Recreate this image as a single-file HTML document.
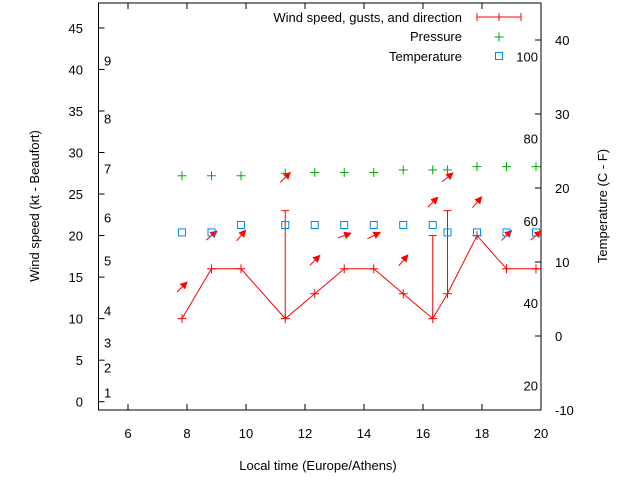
<!DOCTYPE html>
<html><head><meta charset="utf-8"><style>
body{margin:0;background:#fff}
svg{display:block;font-family:"Liberation Sans",Arial,sans-serif;font-size:13px}
</style></head><body>
<svg id="chart" width="640" height="480" viewBox="0 0 640 480"></svg>
<script>
const times=[7.83,8.83,9.83,11.33,12.33,13.33,14.33,15.33,16.33,16.83,17.83,18.83,19.83];
const windSpeed=[10,16,16,10,13,16,16,13,10,13,20,16,16];
const gusts=[null,null,null,23,null,null,null,null,20,23,null,null,null];
const arrowLevel=[13.8,20,20,27,17,20,20,17,24,27,24,20,20];
const arrowAngle=[45,40,50,45,45,20,25,50,45,40,50,45,40];
const pressure=[27.2,27.2,27.2,27.5,27.6,27.6,27.6,27.9,27.9,27.9,28.3,28.3,28.3];
const temperature=[14,14,15,15,15,15,15,15,15,14,14,14,14];
const xTicks=[6,8,10,12,14,16,18,20];
const yTicks=[0,5,10,15,20,25,30,35,40,45];
const y2Ticks=[-10,0,10,20,30,40];
const beaufortLabels=["1","2","3","4","5","6","7","8","9"];
const beaufortPos=[1.1,4.1,7.1,11,17,22.2,28.1,34.1,41.1];
const fLabels=[20,40,60,80,100];

const L=98.5,R=541,T=3,B=410;
const X=v=>L+(v-5)*(R-L)/15;
const Y=v=>B-(v+1)*(B-T)/49;
const Y2=v=>B-(v+10)*(B-T)/55;
const svg=document.getElementById('chart');
const NS='http://www.w3.org/2000/svg';
function el(tag,attrs,parent){const e=document.createElementNS(NS,tag);for(const k in attrs)e.setAttribute(k,attrs[k]);(parent||svg).appendChild(e);return e;}
function txt(s,x,y,anchor,parent){const t=el('text',{x:x,y:y,'text-anchor':anchor||'start',fill:'#000'},parent);t.textContent=s;return t;}

const axes=el('g',{});


el('rect',{x:L,y:T,width:R-L,height:B-T,fill:'none',stroke:'#000','stroke-width':1},axes);
xTicks.forEach(v=>{
  el('line',{x1:X(v),x2:X(v),y1:B,y2:B-6,stroke:'#000'},axes);
  el('line',{x1:X(v),x2:X(v),y1:T,y2:T+6,stroke:'#000'},axes);
  const t=txt(String(v),X(v),438,'middle',axes);
  
  
});
yTicks.forEach(v=>{
  el('line',{x1:L,x2:L+6,y1:Y(v),y2:Y(v),stroke:'#000'},axes);
  const t=txt(String(v),83,Y(v)+5,'end',axes);
  
  
});
y2Ticks.forEach(v=>{
  el('line',{x1:R,x2:R-6,y1:Y2(v),y2:Y2(v),stroke:'#000'},axes);
  const t=txt(String(v),555,Y2(v)+5,'start',axes);
  
  
});
beaufortLabels.forEach((s,i)=>{
  const t=txt(s,104,Y(beaufortPos[i])+5,'start',axes);
  
  
});
fLabels.forEach(f=>{
  const c=(f-32)*5/9;
  const t=txt(String(f),538,Y2(c)+5,'end',axes);
  
  
});
let t=txt('Local time (Europe/Athens)',318,470,'middle');


t=el('text',{x:0,y:0,'text-anchor':'middle',transform:'translate(39,206) rotate(-90)'});t.textContent='Wind speed (kt - Beaufort)';


t=el('text',{x:0,y:0,'text-anchor':'middle',transform:'translate(607,206) rotate(-90)'});t.textContent='Temperature (C - F)';



const red='#f00',green='#0a0',blue='#08f';
function plus(x,y,c,p){el('line',{x1:x-4.5,x2:x+4.5,y1:y,y2:y,stroke:c},p);el('line',{x1:x,x2:x,y1:y-4.5,y2:y+4.5,stroke:c},p);}
const wind=el('g',{});


el('polyline',{points:times.map((v,i)=>X(v)+','+Y(windSpeed[i])).join(' '),fill:'none',stroke:red},wind);
el('line',{x1:X(times[times.length-1]),x2:R,y1:Y(windSpeed[windSpeed.length-1]),y2:Y(windSpeed[windSpeed.length-1]),stroke:red},wind);
times.forEach((v,i)=>{
  plus(X(v),Y(windSpeed[i]),red,wind);
  if(gusts[i]!=null){
    const g=el('line',{x1:X(v),x2:X(v),y1:Y(windSpeed[i]),y2:Y(gusts[i]),stroke:red},wind);
    
    
    el('line',{x1:X(v)-4,x2:X(v)+4,y1:Y(gusts[i]),y2:Y(gusts[i]),stroke:red},wind);
  }
  const a=arrowAngle[i]*Math.PI/180,cx=X(v),cy=Y(arrowLevel[i]),len=14;
  const x1=cx-Math.cos(a)*len/2,y1=cy+Math.sin(a)*len/2,x2=cx+Math.cos(a)*len/2,y2=cy-Math.sin(a)*len/2;
  const ar=el('g',{},wind);
  
  
  el('line',{x1:x1,y1:y1,x2:x2,y2:y2,stroke:red},ar);
  const hx=x2-Math.cos(a)*6,hy=y2+Math.sin(a)*6,px=Math.sin(a)*3,py=Math.cos(a)*3;
  el('polygon',{points:`${x2},${y2} ${hx+px},${hy+py} ${hx-px},${hy-py}`,fill:red,stroke:red},ar);
});
const pg=el('g',{});


times.forEach((v,i)=>plus(X(v),Y(pressure[i]),green,pg));
const tg=el('g',{});


times.forEach((v,i)=>el('rect',{x:X(v)-3.5,y:Y2(temperature[i])-3.5,width:7,height:7,fill:'none',stroke:blue},tg));

const lg=el('g',{});


txt('Wind speed, gusts, and direction',462,22,'end',lg);
el('line',{x1:477,x2:521,y1:17,y2:17,stroke:red},lg);
el('line',{x1:477,x2:477,y1:13,y2:21,stroke:red},lg);
el('line',{x1:521,x2:521,y1:13,y2:21,stroke:red},lg);
el('line',{x1:499,x2:499,y1:13,y2:21,stroke:red},lg);
txt('Pressure',462,41,'end',lg);
plus(499,37,green,lg);
txt('Temperature',462,61,'end',lg);
el('rect',{x:495.5,y:52.5,width:7,height:7,fill:'none',stroke:blue},lg);
</script>
</body></html>
